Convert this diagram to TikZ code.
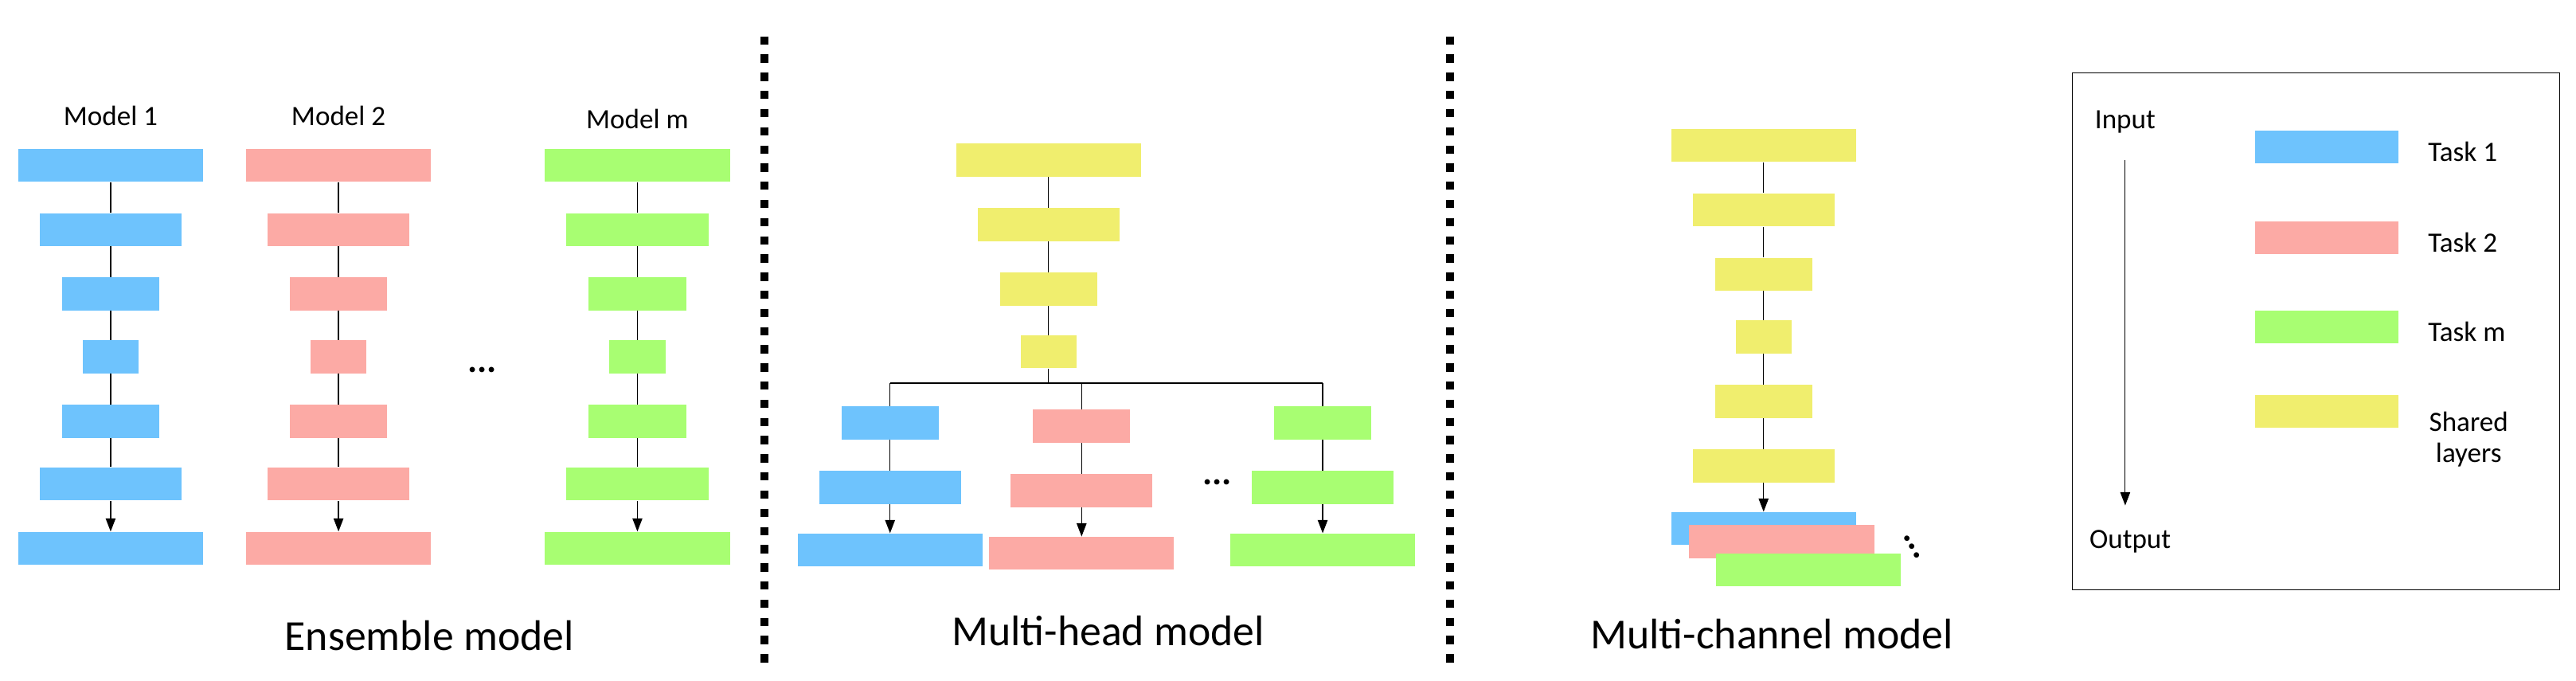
\documentclass[tikz,border=0pt]{standalone}
\usepackage{fontspec}
\setmainfont{Carlito}
\usetikzlibrary{arrows.meta}
\definecolor{cb}{HTML}{6EC3FD}
\definecolor{cp}{HTML}{FCAAA5}
\definecolor{cg}{HTML}{A8FE72}
\definecolor{cy}{HTML}{F0EE6E}
\begin{document}
\begin{tikzpicture}[x=1bp,y=-1bp,
  lay/.style={rectangle,inner sep=0,minimum height=20bp,minimum width=#1,draw=none},
  con/.style={line width=0.6bp,black},
  arr/.style={con,-{Triangle[length=8bp,width=6bp]}},
  lab/.style={font=\fontsize{17}{19}\selectfont},
  big/.style={font=\fontsize{26}{29}\selectfont},
  dots/.style={font=\fontsize{22}{22}\selectfont\bfseries,inner sep=0},
  sep/.style={line width=5bp,dash pattern=on 5bp off 6bp}]
\useasboundingbox (0,0) rectangle (1560,412);
% Ensemble
\foreach \n/\cx/\c/\t/\ty in {a/67/cb/Model 1/70,b/205/cp/Model 2/70,c/386/cg/Model m/72}{
  \node[lab] (\n t) at (\cx,\ty) {\t};
  \foreach \i/\y/\w in {1/100/112,2/139/86,3/178/59,4/216/34,5/255/59,6/293/86,7/332/112}{
    \node[lay=\w bp,fill=\c] (\n\i) at (\cx,\y) {};}
  \foreach \i/\j in {1/2,2/3,3/4,4/5,5/6}{\draw[con] (\n\i) -- (\n\j);}
  \draw[arr] (\n6) -- (\n7);
}
\node[dots] (d1) at (292,224) {...};
\node[big] (e) at (260,385) {Ensemble model};
% separators
\coordinate (s1a) at (463,22); \coordinate (s1b) at (463,405);
\coordinate (s2a) at (878,22); \coordinate (s2b) at (878,405);
\draw[sep] (s1a) -- (s1b);
\draw[sep] (s2a) -- (s2b);
% Multi-head
\foreach \i/\y/\w in {1/97/112,2/136/86,3/175/59,4/213/34}{
  \node[lay=\w bp,fill=cy] (h\i) at (635,\y) {};}
\foreach \i/\j in {1/2,2/3,3/4}{\draw[con] (h\i) -- (h\j);}
\coordinate (hj) at (635,232);
\foreach \n/\cx/\c/\dy in {p/539/cb/0,q/655/cp/2,r/801/cg/0}{
  \foreach \i/\y/\w in {1/256/59,2/295/86,3/333/112}{
    \node[lay=\w bp,fill=\c] (\n\i) at (\cx,\y+\dy) {};}
  \coordinate (\n j) at (\cx,232);
  \draw[con] (\n j) -- (\n1);
  \draw[con] (\n1) -- (\n2);
  \draw[arr] (\n2) -- (\n3);
}
\draw[con] (h4) -- (hj);
\draw[con] (pj) -- (rj);
\node[dots] (d2) at (737,292) {...};
\node[big] (mh) at (671,382) {Multi-head model};
% Multi-channel
\foreach \i/\y/\w in {1/88/112,2/127/86,3/166/59,4/204/34,5/243/59,6/282/86}{
  \node[lay=\w bp,fill=cy] (m\i) at (1068,\y) {};}
\foreach \i/\j in {1/2,2/3,3/4,4/5}{\draw[con] (m\i) -- (m\j);}
\node[lay=112bp,fill=cb] (mb) at (1068,320) {};
\node[lay=112bp,fill=cp] (mp) at (1079,328) {};
\node[lay=112bp,fill=cg] (mg) at (1095,345) {};
\draw[con] (m5) -- (m6);
\draw[arr] (m6) -- (mb);
\node[dots,rotate=-60] (d3) at (1158,331) {...};
\node[big] (mc) at (1073,384) {Multi-channel model};
% Legend
\node[draw,line width=0.7bp,inner sep=0,minimum width=295bp,minimum height=313bp] (leg) at (1402.5,200.5) {};
\node[lab] (in) at (1287,74) {Input};
\node[lab] (out) at (1290,328) {Output};
\coordinate (ia) at (1287,97); \coordinate (ib) at (1287,306);
\draw[con,line width=0.4bp,-{Triangle[length=8bp,width=6bp]}] (ia) -- (ib);
\foreach \n/\y/\c/\t in {l1/89/cb/Task 1,l2/144/cp/Task 2,l3/198/cg/Task m}{
  \node[lay=87bp,fill=\c] (\n) at (1409,\y) {};
  \node[lab,anchor=west] (\n t) at (1467,\y+3) {\t};}
\node[lay=87bp,fill=cy] (l4) at (1409,249) {};
\node[lab,align=center] (l4t) at (1495,266) {Shared\\layers};
\end{tikzpicture}
\end{document}
